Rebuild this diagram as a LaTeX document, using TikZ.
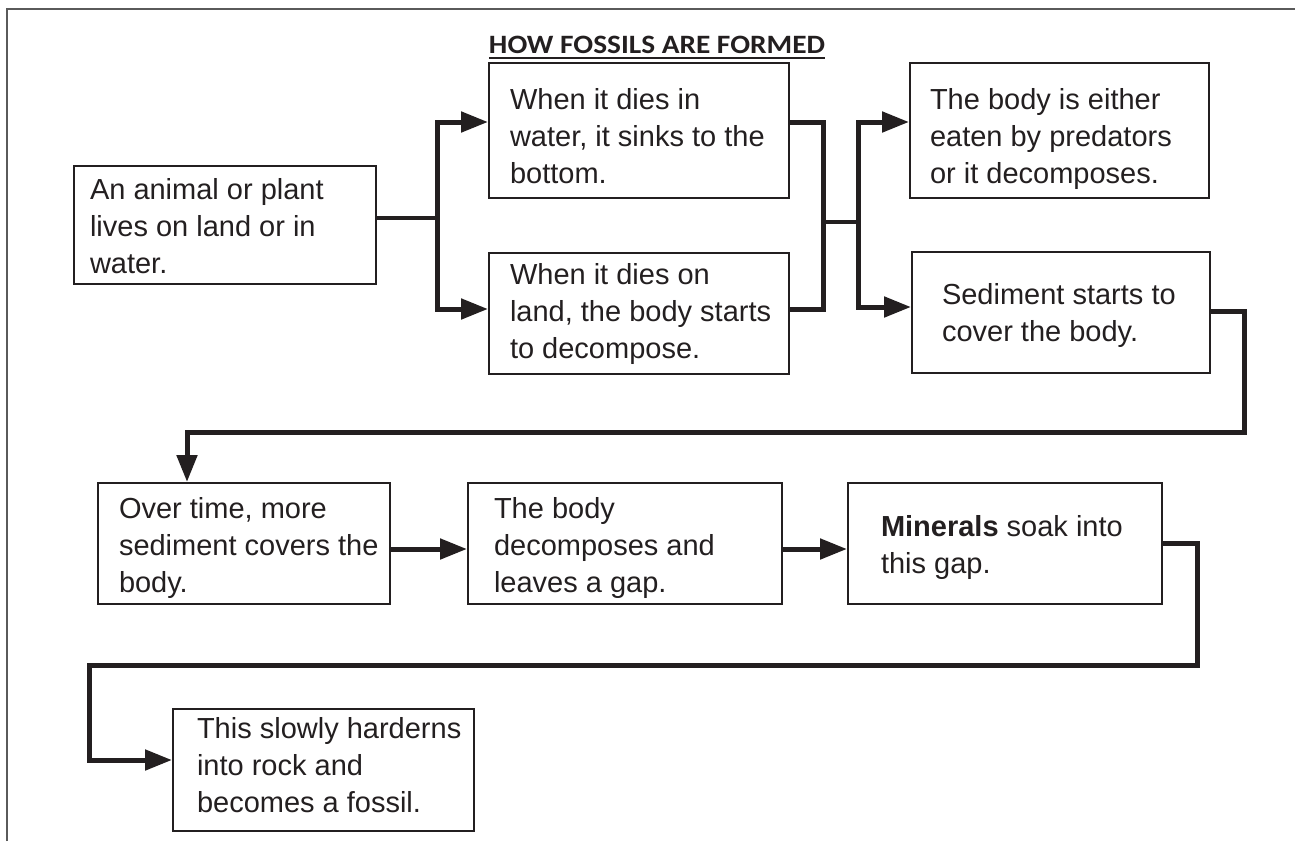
\documentclass[tikz,border=0pt]{standalone}
\usepackage{fontspec}
\setmainfont{Liberation Sans}
\newfontfamily\titlefont{Carlito}
\usetikzlibrary{arrows.meta}
\definecolor{ink}{RGB}{35,31,32}
\definecolor{framegray}{RGB}{90,90,90}
\newcommand{\boxtext}[5]{\parbox[c][#2][t]{#1}{\raggedright\leftskip=#4\relax\vspace*{\dimexpr#3-\ht\strutbox\relax}\strut#5}}
\tikzset{
  box/.style={draw=ink, line width=2pt, inner sep=0pt, anchor=north west, text=ink,
    font=\fontsize{29pt}{37.3pt}\selectfont},
  conn/.style={draw=ink, line width=5pt},
  thinconn/.style={draw=ink, line width=3.5pt},
  arr/.style={-{Triangle[length=27pt,width=20pt]}},
  titlestyle/.style={font=\titlefont\bfseries\fontsize{26.5pt}{30pt}\selectfont, text=ink, anchor=base, inner sep=0pt}
}
\begin{document}
\begin{tikzpicture}[x=1pt,y=-1pt]
\useasboundingbox (0,0) rectangle (1295,841);
\draw[framegray, line width=1.5pt] (7,841) -- (7,9) -- (1295,9);

\node[titlestyle] (T) at (657,53) {\scalebox{1.107}[1]{HOW FOSSILS ARE FORMED}};
\draw[ink, line width=2pt] ([yshift=-5pt]T.base west) -- ([yshift=-5pt]T.base east);

\node[box] (A) at (73,165) {\boxtext{302pt}{118pt}{33pt}{16pt}{An animal or plant\\lives on land or in\\water.}};
\node[box] (B) at (488,62) {\boxtext{300pt}{135pt}{46pt}{21pt}{When it dies in\\water, it sinks to the\\bottom.}};
\node[box] (C) at (488,252) {\boxtext{300pt}{121pt}{31pt}{21pt}{When it dies on\\land, the body starts\\to decompose.}};
\node[box] (D) at (909,62) {\boxtext{299pt}{135pt}{46pt}{20pt}{The body is either\\eaten by predators\\or it decomposes.}};
\node[box] (E) at (911,251) {\boxtext{298pt}{121pt}{52pt}{30pt}{Sediment starts to\\cover the body.}};
\node[box] (F) at (97,482) {\boxtext{292pt}{121pt}{35pt}{21pt}{Over time, more\\sediment covers the\\body.}};
\node[box] (G) at (467,482) {\boxtext{314pt}{121pt}{35pt}{26pt}{The body\\decomposes and\\leaves a gap.}};
\node[box] (H) at (847,482) {\boxtext{314pt}{121pt}{53pt}{33pt}{\textbf{Minerals} soak into\\this gap.}};
\node[box] (I) at (172,708) {\boxtext{301pt}{122pt}{29pt}{24pt}{This slowly harderns\\into rock and\\becomes a fossil.}};

\coordinate (s1) at (437,218);
\coordinate (yB) at (0,122);
\coordinate (yC) at (0,309);
\coordinate (m1) at (823,222);
\coordinate (m2) at (858,222);
\coordinate (yE) at (0,307);
\coordinate (e1) at (0,311);
\coordinate (c1) at (1244,432);
\coordinate (c2) at (187,432);
\coordinate (yF) at (0,549);
\coordinate (h1) at (1197,543);
\coordinate (h2) at (89,665);
\coordinate (yI) at (0,760);

\draw[thinconn] (A.east |- s1) -- (s1);
\draw[conn,arr] (s1) |- (B.west |- yB);
\draw[conn,arr] (s1) |- (C.west |- yC);
\draw[conn] (B.east |- yB) -| (m1 |- yC) -- (C.east |- yC);
\draw[thinconn] (m1) -- (m2);
\draw[conn,arr] (m2) |- (D.west |- yB);
\draw[conn,arr] (m2) |- (E.west |- yE);
\draw[conn,arr] (E.east |- e1) -| (c1) -- (c2) -- (c2 |- F.north);
\draw[conn,arr] (F.east |- yF) -- (G.west |- yF);
\draw[conn,arr] (G.east |- yF) -- (H.west |- yF);
\draw[conn,arr] (H.east |- h1) -- (h1) |- (h2) |- (I.west |- yI);
\end{tikzpicture}
\end{document}
